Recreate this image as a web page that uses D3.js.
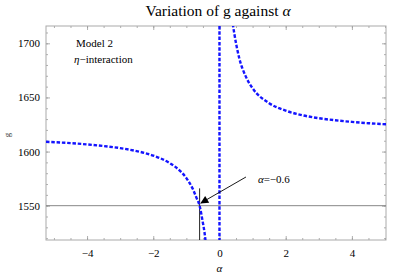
<!DOCTYPE html>
<html>
<head>
<meta charset="utf-8">
<script src="https://cdn.jsdelivr.net/npm/d3@7"></script>
<style>
  body { margin: 0; background: #fff; }
  svg, svg text { font-family: "Liberation Serif", "Times New Roman", "DejaVu Serif", serif !important; }
</style>
</head>
<body>
<svg id="chart" width="393" height="277"></svg>
<script>
// values
const leftAlpha = [-5.24, -4.5, -4, -3.5, -3, -2.5, -2, -1.5, -1.2, -1, -0.8, -0.7, -0.6, -0.5, -0.45, -0.42];
const leftG     = [1609, 1607.8, 1606.6, 1605.1, 1603.2, 1600.4, 1596.3, 1589.3, 1582.4, 1575.5, 1565.1, 1557.7, 1549.8, 1534, 1524.8, 1517];
const rightAlpha = [0.4, 0.5, 0.6, 0.8, 1, 1.5, 2, 2.5, 3, 3.5, 4, 4.5, 5.03];
const rightG     = [1718, 1700, 1686, 1669, 1658.5, 1644.7, 1637.8, 1633.6, 1630.8, 1628.9, 1627.4, 1626.2, 1625.2];
const poleAlpha = 0;
const markAlpha = -0.6;
const markG = 1550;
const xTicks = [-4, -2, 0, 2, 4];
const yTicks = [1550, 1600, 1650, 1700];

const serif = "'Liberation Serif', 'Times New Roman', serif";
const margin = { top: 26, right: 7, bottom: 37, left: 46 };
const W = 393, H = 277;
const width = W - margin.left - margin.right;
const height = H - margin.top - margin.bottom;

const svg = d3.select("#chart").attr("font-family", serif);
const g = svg.append("g").attr("transform", `translate(${margin.left},${margin.top})`);

const x = d3.scaleLinear().domain([-5.24, 5.03]).range([0, width]);
const y = d3.scaleLinear().domain([1518.3, 1716]).range([height, 0]);

svg.append("defs").append("clipPath").attr("id", "clip")
  .append("rect").attr("width", width).attr("height", height);

// minor ticks
const xMinor = d3.range(-5, 5.01, 0.5);
const yMinor = d3.range(1520, 1716, 10);
const tickCol = "#999";

function styleAxis(sel) {
  sel.attr("font-family", serif);
  sel.select(".domain").remove();
  sel.selectAll("line").attr("stroke", tickCol).attr("stroke-width", 0.8);
  sel.selectAll("text").attr("font-size", 11).attr("fill", "#000").attr("font-family", serif);
}

// minor on all sides
g.append("g").attr("transform", `translate(0,${height})`)
  .call(d3.axisBottom(x).tickValues(xMinor).tickSize(-2).tickFormat(""))
  .call(styleAxis);
g.append("g")
  .call(d3.axisTop(x).tickValues(xMinor).tickSize(-2).tickFormat(""))
  .call(styleAxis);
g.append("g")
  .call(d3.axisLeft(y).tickValues(yMinor).tickSize(-2).tickFormat(""))
  .call(styleAxis);
g.append("g").attr("transform", `translate(${width},0)`)
  .call(d3.axisRight(y).tickValues(yMinor).tickSize(-2).tickFormat(""))
  .call(styleAxis);

// major
g.append("g").attr("transform", `translate(0,${height})`)
  .call(d3.axisBottom(x).tickValues(xTicks).tickSizeInner(-4).tickPadding(9).tickFormat(d3.format("d")))
  .call(styleAxis);
g.append("g")
  .call(d3.axisTop(x).tickValues(xTicks).tickSize(-4).tickFormat(""))
  .call(styleAxis);
g.append("g")
  .call(d3.axisLeft(y).tickValues(yTicks).tickSizeInner(-4).tickPadding(6).tickFormat(d3.format("d")))
  .call(styleAxis);
g.append("g").attr("transform", `translate(${width},0)`)
  .call(d3.axisRight(y).tickValues(yTicks).tickSize(-4).tickFormat(""))
  .call(styleAxis);

// frame
g.append("rect").attr("width", width).attr("height", height)
  .attr("fill", "none").attr("stroke", "#aaa").attr("stroke-width", 1);

// reference lines
g.append("line")
  .attr("x1", 0).attr("x2", width)
  .attr("y1", y(markG)).attr("y2", y(markG))
  .attr("stroke", "#888").attr("stroke-width", 1);
g.append("line")
  .attr("x1", x(markAlpha)).attr("x2", x(markAlpha))
  .attr("y1", y(1566)).attr("y2", height)
  .attr("stroke", "#222").attr("stroke-width", 1);

// curve
const line = d3.line().x(d => x(d[0])).y(d => y(d[1])).curve(d3.curveMonotoneX);
const plot = g.append("g").attr("clip-path", "url(#clip)");
const dash = { stroke: "#1414ff", width: 2.4, array: "3.5,1.8" };

[[leftAlpha, leftG], [rightAlpha, rightG]].forEach(([a, v]) => {
  plot.append("path")
    .datum(a.map((d, i) => [d, v[i]]))
    .attr("d", line)
    .attr("fill", "none")
    .attr("stroke", dash.stroke)
    .attr("stroke-width", dash.width)
    .attr("stroke-dasharray", dash.array);
});
plot.append("line")
  .attr("x1", x(poleAlpha)).attr("x2", x(poleAlpha))
  .attr("y1", 0).attr("y2", height)
  .attr("stroke", dash.stroke)
  .attr("stroke-width", dash.width)
  .attr("stroke-dasharray", dash.array);

// arrow annotation
svg.append("defs").append("marker")
  .attr("id", "arrow").attr("viewBox", "0 0 10 10")
  .attr("refX", 9).attr("refY", 5)
  .attr("markerWidth", 14).attr("markerHeight", 8)
  .attr("markerUnits", "userSpaceOnUse")
  .attr("orient", "auto")
  .append("path").attr("d", "M0,0 L10,5 L0,10 Z").attr("fill", "#000");
g.append("line")
  .attr("x1", x(0.8)).attr("y1", y(1576.5))
  .attr("x2", x(-0.56)).attr("y2", y(1552.5))
  .attr("stroke", "#000").attr("stroke-width", 0.9)
  .attr("marker-end", "url(#arrow)");
const ann = g.append("text")
  .attr("x", x(1.16)).attr("y", y(1571))
  .attr("font-size", 11);
ann.append("tspan").attr("font-style", "italic").text("α");
ann.append("tspan").text("=−0.6");

// legend-ish text
g.append("text").attr("x", 30).attr("y", 21).attr("font-size", 11).text("Model 2");
const eta = g.append("text").attr("x", 28).attr("y", 37).attr("font-size", 11);
eta.append("tspan").attr("font-style", "italic").text("η");
eta.append("tspan").text("−interaction");

// title and labels
const title = svg.append("text")
  .attr("x", 218).attr("y", 16)
  .attr("text-anchor", "middle").attr("font-size", 15.5);
title.append("tspan").text("Variation of g against ");
title.append("tspan").attr("font-style", "italic").text("α");

svg.append("text")
  .attr("transform", "translate(10,135) rotate(-90)")
  .attr("text-anchor", "middle").attr("font-size", 9)
  .attr("fill", "#333")
  .text("g");
svg.append("text")
  .attr("x", x(0) + margin.left).attr("y", 272)
  .attr("text-anchor", "middle").attr("font-size", 11)
  .attr("font-style", "italic")
  .text("α");
</script>
</body>
</html>
